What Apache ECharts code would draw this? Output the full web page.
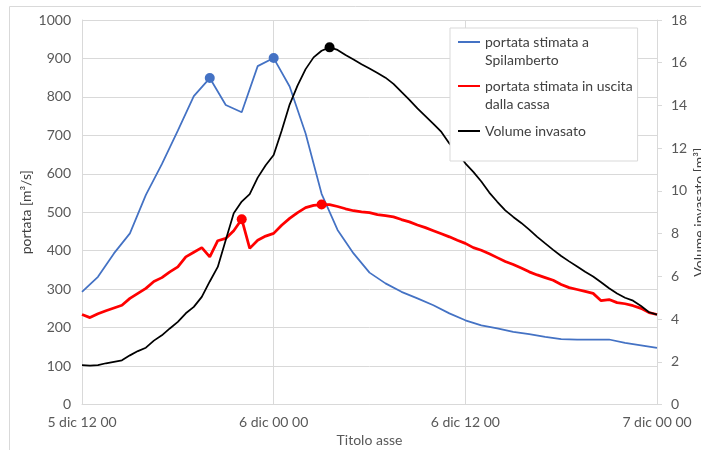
<!DOCTYPE html>
<html>
<head>
<meta charset="utf-8">
<script src="https://cdn.jsdelivr.net/npm/echarts@6/dist/echarts.min.js"></script>
<style>
  html, body { margin: 0; padding: 0; background: #fff; }
  #chart { width: 701px; height: 450px; }
</style>
</head>
<body>
<div id="chart"></div>
<script>
// tick labels of the time axis (hours from 5 dic 12 00)
const timeTicks = ['5 dic 12 00', '6 dic 00 00', '6 dic 12 00', '7 dic 00 00']

// portata stimata a Spilamberto [m3/s], hourly
const portataSpil = [
  293, 332, 393, 445, 545, 625, 712, 802, 849, 779,
  760, 880, 901, 827, 705, 548, 454, 393, 343, 315,
  293, 276, 258, 237, 219, 206, 198, 189, 183, 176,
  170, 169, 169, 169, 160, 154, 147
]
const spilStep = 1
const spilPeaks = [8, 12]

// portata stimata in uscita dalla cassa [m3/s], every half hour
const portataUscita = [
  234, 226, 236, 244, 251, 258, 276, 289, 302, 320,
  330, 345, 358, 384, 396, 408, 384, 426, 432, 452,
  482, 406, 427, 438, 445, 466, 484, 499, 512, 518,
  520, 520, 515, 509, 504, 501, 499, 494, 491, 488,
  481, 475, 467, 460, 452, 444, 436, 427, 419, 408,
  401, 392, 382, 372, 364, 355, 345, 337, 330, 323,
  312, 304, 299, 294, 289, 270, 273, 265, 262, 257,
  250, 239, 234
]
const uscitaStep = 0.5
const uscitaPeaks = [20, 30]

// volume invasato [m3], every half hour
const volume = [
  1.84, 1.82, 1.84, 1.93, 2.0, 2.07, 2.3, 2.5, 2.66, 2.99,
  3.24, 3.56, 3.87, 4.27, 4.57, 5.04, 5.76, 6.44, 7.7, 8.95,
  9.5, 9.85, 10.62, 11.2, 11.68, 12.82, 14.04, 14.94, 15.7, 16.25,
  16.56, 16.72, 16.6, 16.36, 16.15, 15.93, 15.73, 15.52, 15.3, 15.01,
  14.63, 14.26, 13.86, 13.5, 13.14, 12.76, 12.22, 11.79, 11.29, 10.89,
  10.44, 9.92, 9.49, 9.09, 8.78, 8.5, 8.19, 7.85, 7.54, 7.24,
  6.95, 6.7, 6.46, 6.21, 5.99, 5.72, 5.44, 5.2, 5.0, 4.86,
  4.61, 4.32, 4.21
]
const volumeStep = 0.5
const volumePeaks = [31]

const names = [
  'portata stimata a\nSpilamberto',
  'portata stimata in uscita\ndalla cassa',
  'Volume invasato'
]

const font = 'Lato'
const txt = '#595959'
const grid = '#d9d9d9'

function toPoints(values, step, peaks) {
  return values.map((v, i) => {
    if (peaks.indexOf(i) >= 0) {
      return { value: [i * step, v], symbol: 'circle', symbolSize: 10 }
    }
    return [i * step, v]
  })
}

// legend line icons: on the first text line for the wrapped names
const iconTop = 'path://M0,0h22v2h-22zM0,20h0v0z'
const iconMid = 'path://M0,0h0v0zM0,9h22v2h-22zM0,20h0v0z'

const chart = echarts.init(document.getElementById('chart'))

chart.setOption({
  animation: false,
  textStyle: { fontFamily: font },
  graphic: [{
    type: 'rect',
    shape: { x: 9.5, y: 6.5, width: 760, height: 500 },
    style: { fill: 'none', stroke: grid, lineWidth: 1 },
    z: -1
  }],
  grid: { left: 82, right: 44, top: 20, bottom: 45.5, outerBoundsMode: 'none', containLabel: false },
  legend: {
    orient: 'vertical',
    left: 450,
    top: 28,
    padding: [5, 5, 20, 8],
    itemWidth: 22,
    itemHeight: 20,
    itemGap: 8,
    backgroundColor: '#fff',
    borderColor: grid,
    borderWidth: 1,
    textStyle: { fontFamily: font, fontSize: 14, color: '#404040', lineHeight: 18 },
    data: [
      { name: names[0], icon: iconTop },
      { name: names[1], icon: iconTop },
      { name: names[2], icon: iconMid }
    ]
  },
  xAxis: {
    type: 'value',
    min: 0,
    max: 36,
    interval: 12,
    name: 'Titolo asse',
    nameLocation: 'middle',
    nameGap: 29,
    nameMoveOverlap: false,
    nameTextStyle: { fontFamily: font, fontSize: 14, color: txt },
    axisLine: { show: true, lineStyle: { color: grid } },
    axisTick: { show: false },
    axisLabel: {
      fontFamily: font, fontSize: 14, color: txt, margin: 11,
      formatter: v => timeTicks[Math.round(v / 12)]
    },
    splitLine: { show: true, lineStyle: { color: grid } }
  },
  yAxis: [{
    type: 'value',
    min: 0,
    max: 1000,
    interval: 100,
    name: 'portata [m³/s]',
    nameLocation: 'middle',
    nameRotate: 90,
    nameGap: 49,
    nameMoveOverlap: false,
    nameTextStyle: { fontFamily: font, fontSize: 14, color: '#404040' },
    axisLine: { show: true, lineStyle: { color: grid } },
    axisTick: { show: false },
    axisLabel: { fontFamily: font, fontSize: 14, color: txt, margin: 11, formatter: v => String(v) },
    splitLine: { lineStyle: { color: grid } }
  }, {
    type: 'value',
    min: 0,
    max: 18,
    interval: 2,
    name: 'Volume invasato [m³]',
    nameLocation: 'middle',
    nameRotate: 90,
    nameGap: 35,
    nameMoveOverlap: false,
    nameTextStyle: { fontFamily: font, fontSize: 14, color: '#404040' },
    axisLine: { show: true, lineStyle: { color: grid } },
    axisTick: { show: true, length: 5, lineStyle: { color: grid } },
    axisLabel: { fontFamily: font, fontSize: 14, color: txt, margin: 14, formatter: v => String(v) },
    splitLine: { show: false }
  }],
  series: [{
    name: names[0],
    type: 'line',
    yAxisIndex: 0,
    symbol: 'none',
    showSymbol: true,
    color: '#4472c4',
    lineStyle: { width: 1.75, color: '#4472c4' },
    data: toPoints(portataSpil, spilStep, spilPeaks)
  }, {
    name: names[1],
    type: 'line',
    yAxisIndex: 0,
    symbol: 'none',
    showSymbol: true,
    color: '#ff0000',
    lineStyle: { width: 2.75, color: '#ff0000' },
    data: toPoints(portataUscita, uscitaStep, uscitaPeaks)
  }, {
    name: names[2],
    type: 'line',
    yAxisIndex: 1,
    symbol: 'none',
    showSymbol: true,
    color: '#000',
    lineStyle: { width: 1.75, color: '#000' },
    data: toPoints(volume, volumeStep, volumePeaks)
  }]
})
</script>
</body>
</html>
